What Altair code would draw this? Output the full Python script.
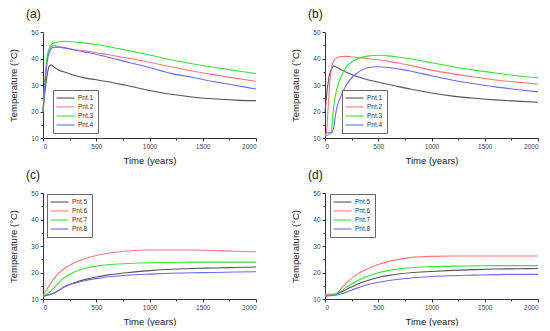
import altair as alt
import pandas as pd

# ---------------- data ----------------
names_top = ["Pnt.1", "Pnt.2", "Pnt.3", "Pnt.4"]
names_bottom = ["Pnt.5", "Pnt.6", "Pnt.7", "Pnt.8"]
line_colors = ["#555555", "#ff7878", "#33e633", "#6a6aff"]
panel_labels = ["(a)", "(b)", "(c)", "(d)"]

# (a)
time_a = [0, 20, 40, 60, 80, 100, 150, 200, 300, 400, 500, 600, 700, 800, 1000, 1200, 1400, 1600, 1800, 2000]
a_p1 = [20, 28, 34, 37.2, 37.5, 36.9, 35.6, 34.9, 33.6, 32.6, 32.0, 31.3, 30.5, 29.7, 27.9, 26.5, 25.5, 24.8, 24.3, 24.1]
a_p2 = [20, 32, 40, 43.2, 44.5, 45.0, 44.5, 44.0, 43.3, 42.8, 42.2, 41.5, 40.8, 40.1, 38.6, 36.9, 35.3, 33.9, 32.6, 31.4]
a_p3 = [20, 33, 41, 44.0, 45.3, 45.9, 46.3, 46.5, 46.2, 45.8, 45.3, 44.6, 43.8, 43.0, 41.3, 39.5, 38.0, 36.7, 35.5, 34.3]
a_p4 = [20, 31, 39, 42.5, 43.8, 44.2, 44.3, 44.0, 43.2, 42.4, 41.6, 40.6, 39.6, 38.6, 36.6, 34.4, 32.9, 31.3, 29.9, 28.5]

# (b)
time_b = [0, 10, 20, 30, 40, 50, 60, 70, 80, 90, 100, 150, 200, 300, 400, 500, 600, 700, 800, 1000, 1200, 1400, 1600, 1800, 2000]
b_p1 = [20, 24, 28, 31, 33.5, 35, 36, 36.8, 37.2, 37.1, 36.9, 35.8, 34.8, 33.2, 32.0, 31.1, 30.2, 29.3, 28.5, 27.0, 25.8, 25.0, 24.4, 23.9, 23.5]
b_p2 = [11, 11.5, 15, 22, 28, 33, 36, 38, 39, 39.6, 40.0, 40.7, 40.8, 40.4, 40.0, 39.5, 38.9, 38.2, 37.4, 35.6, 34.2, 33.0, 31.9, 31.1, 30.4]
b_p3 = [11, 11, 11, 11.2, 11.5, 11.8, 12, 17, 21, 24, 26.5, 33, 36.8, 39.8, 40.9, 41.2, 41.0, 40.5, 39.9, 38.4, 36.9, 35.6, 34.5, 33.5, 32.7]
b_p4 = [12, 12, 12, 12, 12, 12, 12, 12.5, 13.5, 16, 19, 25.8, 30, 34.5, 36.5, 36.9, 36.6, 36.0, 35.3, 33.5, 31.8, 30.5, 29.3, 28.3, 27.4]

# (c)
time_c = [0, 50, 100, 150, 200, 300, 400, 500, 600, 800, 1000, 1200, 1400, 1600, 1800, 2000]
c_p5 = [11.1, 11.5, 12.2, 13.3, 14.6, 16.2, 17.4, 18.3, 19.0, 20.0, 20.7, 21.2, 21.5, 21.7, 21.9, 22.1]
c_p6 = [11.2, 14.5, 17.5, 19.8, 21.5, 23.8, 25.3, 26.4, 27.2, 28.1, 28.5, 28.5, 28.5, 28.3, 28.0, 27.8]
c_p7 = [11.1, 12.2, 14.0, 16.3, 18.0, 20.3, 21.6, 22.4, 22.9, 23.4, 23.7, 23.8, 23.9, 23.9, 23.9, 23.9]
c_p8 = [11.1, 11.5, 12.2, 13.3, 14.6, 16.0, 17.0, 17.7, 18.3, 19.0, 19.4, 19.7, 19.9, 20.0, 20.2, 20.3]

# (d)
time_d = [0, 50, 100, 150, 200, 300, 400, 500, 600, 800, 1000, 1200, 1400, 1600, 1800, 2000]
d_p5 = [11.4, 11.6, 11.8, 12.6, 13.6, 15.5, 17.0, 18.1, 18.9, 19.9, 20.4, 20.8, 21.1, 21.3, 21.4, 21.5]
d_p6 = [11.8, 11.8, 12.0, 13.8, 16.0, 19.3, 21.4, 23.0, 24.2, 25.6, 26.1, 26.2, 26.2, 26.2, 26.2, 26.2]
d_p7 = [11.1, 11.4, 11.8, 13.0, 14.4, 16.8, 18.6, 19.9, 20.8, 21.8, 22.2, 22.4, 22.5, 22.6, 22.6, 22.6]
d_p8 = [11.1, 11.2, 11.4, 11.9, 12.6, 14.1, 15.4, 16.3, 17.0, 17.9, 18.5, 18.8, 19.0, 19.2, 19.3, 19.3]

x_tick_values = [0, 250, 500, 750, 1000, 1250, 1500, 1750, 2000]
y_tick_values = [10, 15, 20, 25, 30, 35, 40, 45, 50]

FONT = "Liberation Sans"
W, H = 213, 106


def make_panel(label, times, names, series, leg_x, leg_y, widths):
    rows = []
    for n, vals in zip(names, series):
        for t, v in zip(times, vals):
            rows.append({"t": t, "T": v, "s": n})
    df = pd.DataFrame(rows)
    x = alt.X(
        "t:Q",
        scale=alt.Scale(domain=[0, 2000], nice=False),
        axis=alt.Axis(
            values=x_tick_values,
            format="d",
            labelExpr="datum.value % 500 === 0 ? datum.label : ''",
            tickSize={"condition": {"test": "datum.value % 500 === 0", "value": 3}, "value": 2},
            title="Time (years)",
            titlePadding=6,
            labelPadding=2,
        ),
    )
    y = alt.Y(
        "T:Q",
        scale=alt.Scale(domain=[10, 50], nice=False),
        axis=alt.Axis(
            values=y_tick_values,
            labelExpr="datum.value % 10 === 0 ? datum.label : ''",
            tickSize={"condition": {"test": "datum.value % 10 === 0", "value": 3}, "value": 2},
            title="Temperature (\u00b0C)",
            titlePadding=12,
            labelPadding=2,
        ),
    )
    color = alt.Color(
        "s:N",
        scale=alt.Scale(domain=names, range=line_colors),
        legend=alt.Legend(
            title=None,
            orient="none",
            legendX=leg_x,
            legendY=leg_y,
            strokeColor="#666666",
            padding=4,
            symbolType="M-1.5,0H4.5",
            symbolSize=36,
            symbolStrokeWidth=1.2,
            labelFontSize=6.5,
            labelFont=FONT,
            labelColor="#333333",
            rowPadding=1,
            labelOffset=13,
            fillColor="white",
        ),
    )
    sw = alt.StrokeWidth(
        "s:N", scale=alt.Scale(domain=names, range=widths), legend=None
    )
    lines = (
        alt.Chart(df)
        .mark_line(interpolate="monotone")
        .encode(x=x, y=y, color=color, strokeWidth=sw)
    )
    tag = (
        alt.Chart(pd.DataFrame({"label": [label]}))
        .mark_text(
            align="left",
            baseline="top",
            font=FONT,
            fontSize=12,
            color="#222222",
        )
        .encode(text="label:N", x=alt.value(-17), y=alt.value(-23))
    )
    return alt.layer(lines, tag).properties(width=W, height=H)


pa = make_panel(panel_labels[0], time_a, names_top, [a_p1, a_p2, a_p3, a_p4], 10, 58, [1.1, 1.1, 1.1, 1.1])
pb = make_panel(panel_labels[1], time_b, names_top, [b_p1, b_p2, b_p3, b_p4], 17, 58, [1.1, 1.1, 1.1, 1.1])
pc = make_panel(panel_labels[2], time_c, names_bottom, [c_p5, c_p6, c_p7, c_p8], 4, 1, [1.1, 1.1, 1.8, 1.1])
pd_ = make_panel(panel_labels[3], time_d, names_bottom, [d_p5, d_p6, d_p7, d_p8], 5, 1, [1.1, 1.1, 1.8, 1.1])

chart = (
    alt.concat(pa, pb, pc, pd_, columns=2, spacing={"row": 55, "column": 69}, bounds="flush")
    .resolve_scale(color="independent", strokeWidth="independent")
    .resolve_legend(color="independent", strokeWidth="independent")
    .properties(padding={"left": 0, "top": 0, "right": 0, "bottom": 0})
    .configure_view(stroke=None)
    .configure_axis(
        grid=False,
        domainColor="#333333",
        tickColor="#333333",
        labelColor="#444444",
        labelFont=FONT,
        labelFontSize=6.5,
        titleFont=FONT,
        titleFontSize=9.5,
        titleFontWeight="normal",
        titleColor="#222222",
        domainWidth=1,
        tickWidth=1,
    )
)

chart.save("out.html", embed_options={"renderer": "svg", "actions": False})
